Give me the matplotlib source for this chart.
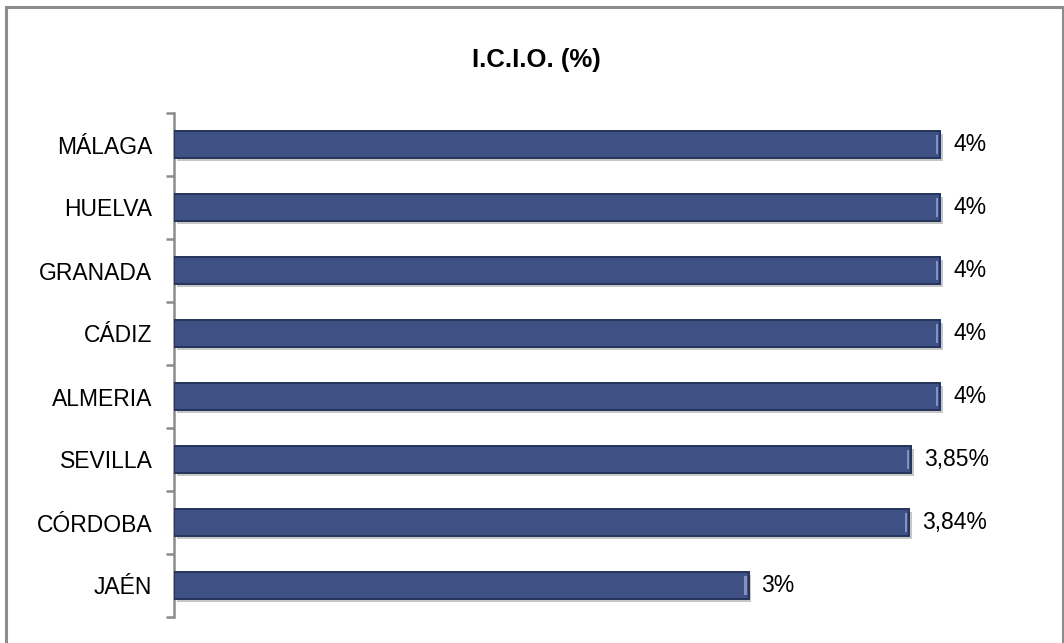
import matplotlib
matplotlib.use("Agg")
import matplotlib.pyplot as plt
import matplotlib.patheffects as pe
from matplotlib.patches import Rectangle

categories = ["MÁLAGA", "HUELVA", "GRANADA", "CÁDIZ", "ALMERIA", "SEVILLA", "CÓRDOBA", "JAÉN"]
values = [4.0, 4.0, 4.0, 4.0, 4.0, 3.85, 3.84, 3.0]
value_labels = ["4%", "4%", "4%", "4%", "4%", "3,85%", "3,84%", "3%"]
title = "I.C.I.O. (%)"

W, H = 1064, 643
fig = plt.figure(figsize=(W / 100, H / 100), dpi=100)
fig.patch.set_facecolor("white")

# outer border
fig.patches.append(Rectangle((6 / W, -0.01), (1063 - 6) / W, 1 - 7 / H + 0.01,
                             transform=fig.transFigure, fill=False,
                             edgecolor="#8C8C8C", linewidth=2.2))

ax = fig.add_axes([174 / W, 1 - 617 / H, (1040 - 174) / W, (617 - 113) / H])
font = ["Liberation Sans Narrow", "Liberation Sans", "DejaVu Sans"]

n = len(categories)
ypos = list(range(n))
bars = ax.barh(ypos, values, height=0.43, color="#3E5084", edgecolor="#26335A",
               linewidth=1.4, zorder=3)
for b in bars:
    b.set_path_effects([pe.SimplePatchShadow(offset=(2, -2), shadow_rgbFace="#000000", alpha=0.22),
                        pe.Normal()])
    x1 = b.get_x() + b.get_width()
    y0 = b.get_y()
    h = b.get_height()
    ax.add_patch(Rectangle((x1 - 0.022, y0 + h * 0.15), 0.012, h * 0.7,
                           facecolor="#8391BE", edgecolor="none", zorder=4))

for y, v, lab in zip(ypos, values, value_labels):
    ax.text(v + 0.068, y, lab, va="center", ha="left", fontsize=16.5,
            family=font, color="#000000")

ax.set_xlim(0, (1040 - 174) / 191.5)
ax.set_ylim(n - 0.5, -0.5)
ax.set_yticks([i - 0.5 for i in range(n + 1)])
ax.set_yticklabels([])
ax.set_yticks(ypos, minor=True)
ax.set_yticklabels(categories, minor=True, fontsize=16.5, family=font)
ax.tick_params(axis="y", which="minor", length=0, pad=15.5)
ax.tick_params(axis="y", which="major", length=5.5, width=1.8, color="#8C8C8C")
ax.set_xticks([])
for s in ["top", "right", "bottom"]:
    ax.spines[s].set_visible(False)
ax.spines["left"].set_color("#8C8C8C")
ax.spines["left"].set_linewidth(1.8)

fig.text(536 / W, 1 - 60 / H, title, ha="center", va="center", fontsize=18.5,
         fontweight="bold", family=font)

fig.savefig("out.png", dpi=100, facecolor="white")
